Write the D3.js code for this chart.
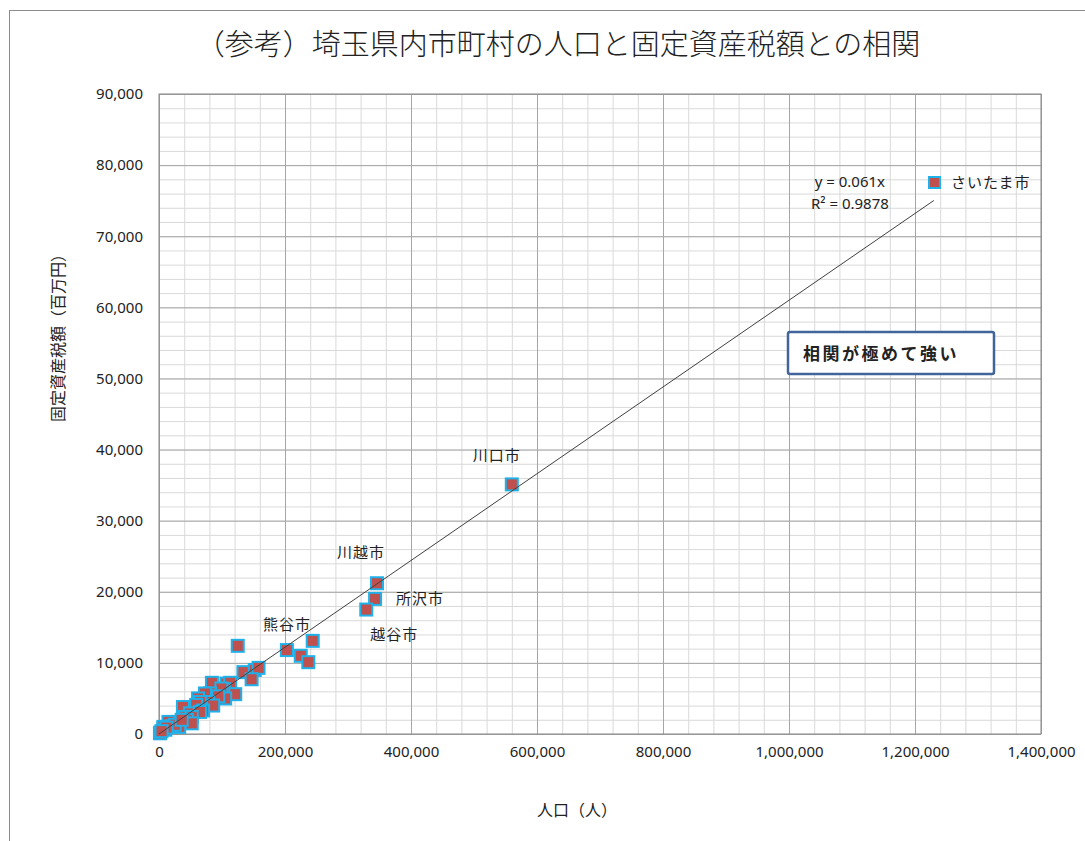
<!DOCTYPE html>
<html>
<head>
<meta charset="utf-8">
<script src="https://d3js.org/d3.v7.min.js"></script>
<style>
  body { margin: 0; background: white; }
  text { font-family: "Noto Sans CJK JP", "Noto Sans", sans-serif; fill: #222; }
  .grid-minor line { stroke: #d9d9d9; }
  .grid-major line { stroke: #a6a6a6; }
  .label { font-size: 15px; }
</style>
</head>
<body>
<svg id="chart" width="1085" height="841"></svg>
<script>
// population (persons) and fixed asset tax (million yen) per municipality
const population = [560000, 346000, 343000, 329000, 244000, 203000, 225000, 237000,
  125000, 134000, 152000, 158000, 147000, 84000, 107000, 113000, 103000, 99000,
  121000, 81000, 73000, 105000, 94000, 62000, 78000, 65000, 86000, 59000, 38000,
  70000, 49000, 65000, 41000, 52000, 30000, 44000, 52000, 17000, 15000, 32000,
  7000, 7000, 2000, 1500, 10000, 20000, 25000, 36000, 12000, 4000];
const taxAmount = [35100, 21200, 19000, 17500, 13100, 11800, 11000, 10100,
  12400, 8700, 9000, 9300, 7700, 7200, 7100, 7200, 6300, 6400,
  5600, 5700, 5700, 5000, 5300, 5000, 4500, 4500, 4000, 4100, 3800,
  3300, 2900, 3100, 2400, 2400, 1700, 2000, 1500, 1500, 1700, 1000,
  800, 1000, 200, 100, 600, 1100, 1300, 2000, 900, 400];

// labelled cities: index into the arrays above and label offset
const cityLabels = [
  { name: "川口市", i: 0, dx: -15, dy: -23 },
  { name: "川越市", i: 1, dx: -16, dy: -25 },
  { name: "所沢市", i: 2, dx: 45, dy: 5 },
  { name: "越谷市", i: 3, dx: 28, dy: 30 },
  { name: "熊谷市", i: 5, dx: 0, dy: -20 }
];

const trendSlope = 0.061;
const trendMaxX = 1230000;
const trendText = ["y = 0.061x", "R² = 0.9878"];
const seriesName = "さいたま市";
const xTicks = [0, 200000, 400000, 600000, 800000, 1000000, 1200000, 1400000];
const yTicks = [0, 10000, 20000, 30000, 40000, 50000, 60000, 70000, 80000, 90000];

const svg = d3.select("#chart");
const margin = { top: 94, left: 159, right: 1085 - 1041, bottom: 841 - 734 };
const width = 1085 - margin.left - margin.right;
const height = 841 - margin.top - margin.bottom;

// chart frame
svg.append("rect")
  .attr("x", 9.5).attr("y", 10.5).attr("width", 1200).attr("height", 1000)
  .attr("fill", "white").attr("stroke", "#8c8c8c");

svg.append("text")
  .attr("x", 558).attr("y", 55)
  .attr("text-anchor", "middle")
  .style("font-size", "29px")
  .style("font-weight", "300")
  .text("（参考）埼玉県内市町村の人口と固定資産税額との相関");

const x = d3.scaleLinear().domain([0, 1400000]).range([0, width]);
const y = d3.scaleLinear().domain([0, 90000]).range([height, 0]);

const g = svg.append("g").attr("transform", `translate(${margin.left},${margin.top})`);

// gridlines
g.append("g").attr("class", "grid-minor")
  .call(d3.axisLeft(y).tickValues(d3.range(0, 90001, 2000)).tickSize(-width).tickFormat(""))
  .call(s => s.select(".domain").remove());
g.append("g").attr("class", "grid-minor")
  .attr("transform", `translate(0,${height})`)
  .call(d3.axisBottom(x).tickValues(d3.range(0, 1400001, 40000)).tickSize(-height).tickFormat(""))
  .call(s => s.select(".domain").remove());
g.append("g").attr("class", "grid-major")
  .call(d3.axisLeft(y).tickValues(yTicks).tickSize(-width).tickFormat(""))
  .call(s => s.select(".domain").remove());
g.append("g").attr("class", "grid-major")
  .attr("transform", `translate(0,${height})`)
  .call(d3.axisBottom(x).tickValues(xTicks).tickSize(-height).tickFormat(""))
  .call(s => s.select(".domain").remove());

g.append("rect").attr("width", width).attr("height", height)
  .attr("fill", "none").attr("stroke", "#868686");

// axes labels
const fmt = d3.format(",");
g.append("g")
  .call(d3.axisLeft(y).tickValues(yTicks).tickSize(0).tickPadding(16).tickFormat(fmt))
  .call(s => s.select(".domain").remove());
g.append("g")
  .attr("transform", `translate(0,${height})`)
  .call(d3.axisBottom(x).tickValues(xTicks).tickSize(0).tickPadding(12).tickFormat(fmt))
  .call(s => s.select(".domain").remove());
g.selectAll(".tick text")
  .style("fill", "#222")
  .style("font-family", "'Noto Sans', sans-serif")
  .style("font-size", "15px");

svg.append("text")
  .attr("transform", "translate(64,334) rotate(-90)")
  .attr("text-anchor", "middle")
  .style("font-size", "16px")
  .text("固定資産税額（百万円）");
svg.append("text")
  .attr("x", 577).attr("y", 816)
  .attr("text-anchor", "middle")
  .style("font-size", "16px")
  .text("人口（人）");

// points
const points = population.map((p, i) => ({ p, t: taxAmount[i] }));
g.selectAll("rect.pt").data(points).join("rect")
  .attr("class", "pt")
  .attr("x", d => x(d.p) - 6).attr("y", d => y(d.t) - 6)
  .attr("width", 12).attr("height", 12)
  .attr("fill", "#c0504d").attr("stroke", "#1fb1ea").attr("stroke-width", 2);

// trendline
g.append("line")
  .attr("x1", x(0)).attr("y1", y(0))
  .attr("x2", x(trendMaxX)).attr("y2", y(trendSlope * trendMaxX))
  .attr("stroke", "#404040").attr("stroke-width", 1);

g.selectAll("text.eq").data(trendText).join("text")
  .attr("class", "eq")
  .attr("x", x(trendMaxX) - 84).attr("y", (d, i) => y(trendSlope * trendMaxX) - 13 + i * 22)
  .attr("text-anchor", "middle")
  .style("font-family", "'Noto Sans', sans-serif")
  .style("font-size", "15px")
  .text(d => d);

// city labels
g.selectAll("text.label").data(cityLabels).join("text")
  .attr("class", "label")
  .attr("x", d => x(population[d.i]) + d.dx)
  .attr("y", d => y(taxAmount[d.i]) + d.dy)
  .attr("text-anchor", "middle")
  .style("letter-spacing", "1px")
  .text(d => d.name);

// legend
svg.append("rect")
  .attr("x", 929).attr("y", 177).attr("width", 11).attr("height", 11)
  .attr("fill", "#c0504d").attr("stroke", "#1fb1ea").attr("stroke-width", 2);
svg.append("text")
  .attr("x", 951).attr("y", 188)
  .style("font-size", "15px")
  .style("letter-spacing", "1px")
  .text(seriesName);

// annotation box
svg.append("rect")
  .attr("x", 788).attr("y", 332).attr("width", 206).attr("height", 42)
  .attr("rx", 2)
  .attr("fill", "white").attr("stroke", "#41659a").attr("stroke-width", 2.5);
svg.append("text")
  .attr("x", 803).attr("y", 360)
  .style("font-size", "17px")
  .style("font-weight", "bold")
  .style("letter-spacing", "2.5px")
  .text("相関が極めて強い");
</script>
</body>
</html>
